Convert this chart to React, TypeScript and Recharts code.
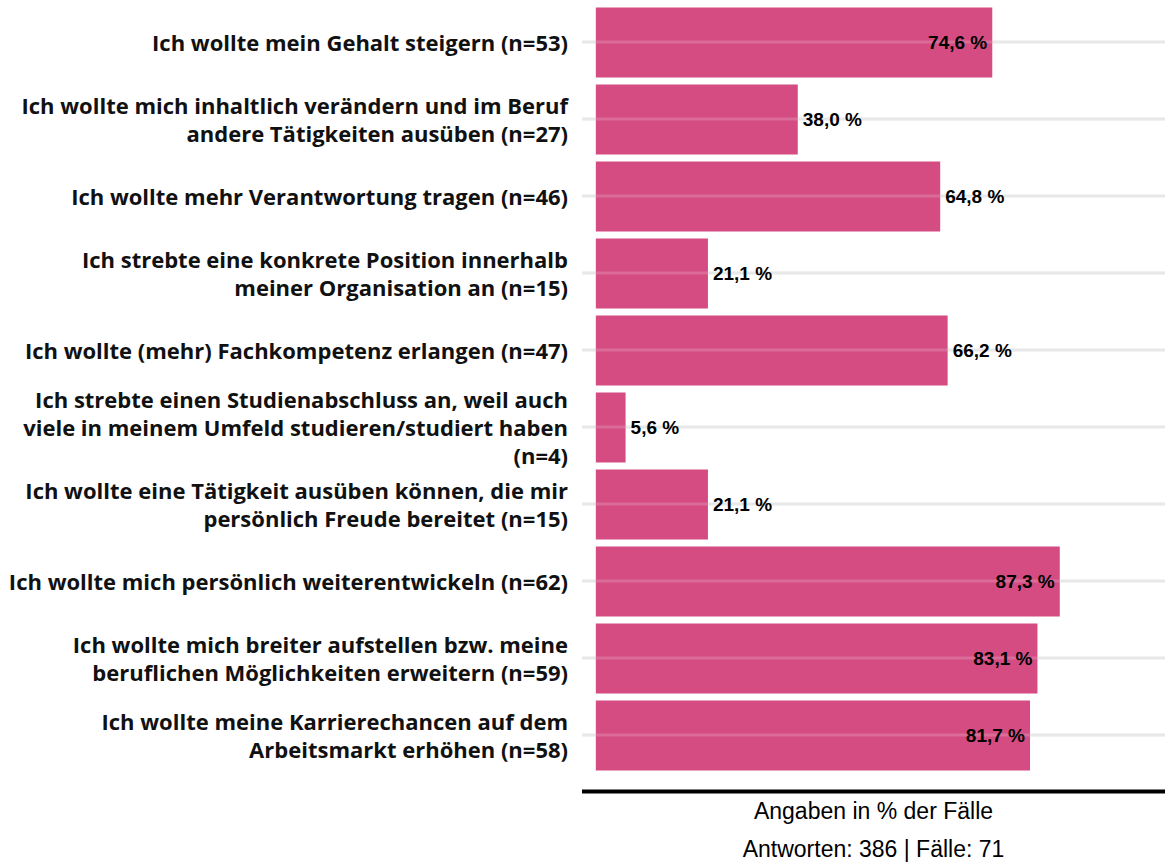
import React from "react";
import {
  BarChart,
  Bar,
  XAxis,
  YAxis,
  CartesianGrid,
  LabelList,
  ReferenceLine,
} from "recharts";

// Motive (Mehrfachantworten), Anteil in % der Fälle
const categories = [
  "Ich wollte mein Gehalt steigern (n=53)",
  "Ich wollte mich inhaltlich verändern und im Beruf andere Tätigkeiten ausüben (n=27)",
  "Ich wollte mehr Verantwortung tragen (n=46)",
  "Ich strebte eine konkrete Position innerhalb meiner Organisation an (n=15)",
  "Ich wollte (mehr) Fachkompetenz erlangen (n=47)",
  "Ich strebte einen Studienabschluss an, weil auch viele in meinem Umfeld studieren/studiert haben (n=4)",
  "Ich wollte eine Tätigkeit ausüben können, die mir persönlich Freude bereitet (n=15)",
  "Ich wollte mich persönlich weiterentwickeln (n=62)",
  "Ich wollte mich breiter aufstellen bzw. meine beruflichen Möglichkeiten erweitern (n=59)",
  "Ich wollte meine Karrierechancen auf dem Arbeitsmarkt erhöhen (n=58)",
];

// line breaks as in the original labels
const labelLines = [
  ["Ich wollte mein Gehalt steigern (n=53)"],
  ["Ich wollte mich inhaltlich verändern und im Beruf", "andere Tätigkeiten ausüben (n=27)"],
  ["Ich wollte mehr Verantwortung tragen (n=46)"],
  ["Ich strebte eine konkrete Position innerhalb", "meiner Organisation an (n=15)"],
  ["Ich wollte (mehr) Fachkompetenz erlangen (n=47)"],
  ["Ich strebte einen Studienabschluss an, weil auch", "viele in meinem Umfeld studieren/studiert haben", "(n=4)"],
  ["Ich wollte eine Tätigkeit ausüben können, die mir", "persönlich Freude bereitet (n=15)"],
  ["Ich wollte mich persönlich weiterentwickeln (n=62)"],
  ["Ich wollte mich breiter aufstellen bzw. meine", "beruflichen Möglichkeiten erweitern (n=59)"],
  ["Ich wollte meine Karrierechancen auf dem", "Arbeitsmarkt erhöhen (n=58)"],
];

const values = [74.6, 38.0, 64.8, 21.1, 66.2, 5.6, 21.1, 87.3, 83.1, 81.7];

const axisTitle = "Angaben in % der Fälle";
const axisSubtitle = "Antworten: 386 | Fälle: 71";

const BAR_COLOR = "#d44c82";
const LABEL_FONT = "'Open Sans', 'Liberation Sans', sans-serif";
const VALUE_FONT = "'Liberation Sans', Arial, sans-serif";
const PAD_BOTTOM = 18;

const data = categories.map((name, i) => ({ name, value: values[i] }));

const fmt = (v: number) => v.toFixed(1).replace(".", ",") + " %";

function CategoryTick(props: any) {
  const { x, y, payload } = props;
  const idx = categories.indexOf(payload.value);
  const lines = idx >= 0 ? labelLines[idx] : [String(payload.value)];
  const lh = 28;
  const start = -((lines.length - 1) * lh) / 2;
  return (
    <text
      x={x - 6}
      y={y}
      textAnchor="end"
      fontFamily={LABEL_FONT}
      fontWeight={700}
      fontSize={22}
      fill="#111"
    >
      {lines.map((l, i) => (
        <tspan key={i} x={x - 6} y={y + start + i * lh} dominantBaseline="central">
          {l}
        </tspan>
      ))}
    </text>
  );
}

function ValueLabel(props: any) {
  const { x, y, width, height, value } = props;
  const inside = value > 70;
  const cy = y + height / 2;
  return (
    <text
      x={inside ? x + width - 5 : x + width + 5}
      y={cy}
      textAnchor={inside ? "end" : "start"}
      dominantBaseline="central"
      fontFamily={VALUE_FONT}
      fontWeight={700}
      fontSize={19}
      fill="#000"
    >
      {fmt(value)}
    </text>
  );
}

function AxisTitle(props: any) {
  const vb = props.viewBox || { x: 582, y: 791.5, width: 583, height: 70 };
  const cx = vb.x + vb.width / 2;
  return (
    <g fontFamily={VALUE_FONT} fontSize={23} fill="#000">
      <text x={cx} y={vb.y + 19} textAnchor="middle" dominantBaseline="central">
        {axisTitle}
      </text>
      <text x={cx} y={vb.y + 57} textAnchor="middle" dominantBaseline="central">
        {axisSubtitle}
      </text>
    </g>
  );
}

// grid lines only through the category centres
const gridAtCategories = ({ offset }: any) => {
  if (!offset) return [];
  const band = (offset.height - PAD_BOTTOM) / categories.length;
  return categories.map((_, i) => offset.top + band * (i + 0.5));
};

export default function App() {
  return (
    <div style={{ position: "absolute", left: 0, top: 0, width: 1172, height: 862, background: "#fff" }}>
      <BarChart
        width={1172}
        height={862}
        data={data}
        layout="vertical"
        margin={{ top: 3.5, right: 7, bottom: 0, left: 0 }}
        barSize={70}
      >
        <CartesianGrid
          horizontal
          vertical={false}
          stroke="#e3e3e3"
          strokeWidth={3}
          horizontalCoordinatesGenerator={gridAtCategories}
        />
        <XAxis
          type="number"
          domain={[-2.6, 107.1]}
          allowDataOverflow
          tick={false}
          tickLine={false}
          height={70.5}
          axisLine={{ stroke: "#000", strokeWidth: 4 }}
          label={<AxisTitle />}
        />
        <YAxis
          type="category"
          dataKey="name"
          width={582}
          axisLine={false}
          tickLine={false}
          interval={0}
          padding={{ top: 0, bottom: PAD_BOTTOM }}
          tick={<CategoryTick />}
        />
        <Bar dataKey="value" fill={BAR_COLOR} isAnimationActive={false}>
          <LabelList dataKey="value" content={<ValueLabel />} />
        </Bar>
        {categories.map((c) => (
          <ReferenceLine key={c} y={c} stroke="#ffffff" strokeOpacity={0.18} strokeWidth={3} />
        ))}
      </BarChart>
    </div>
  );
}
